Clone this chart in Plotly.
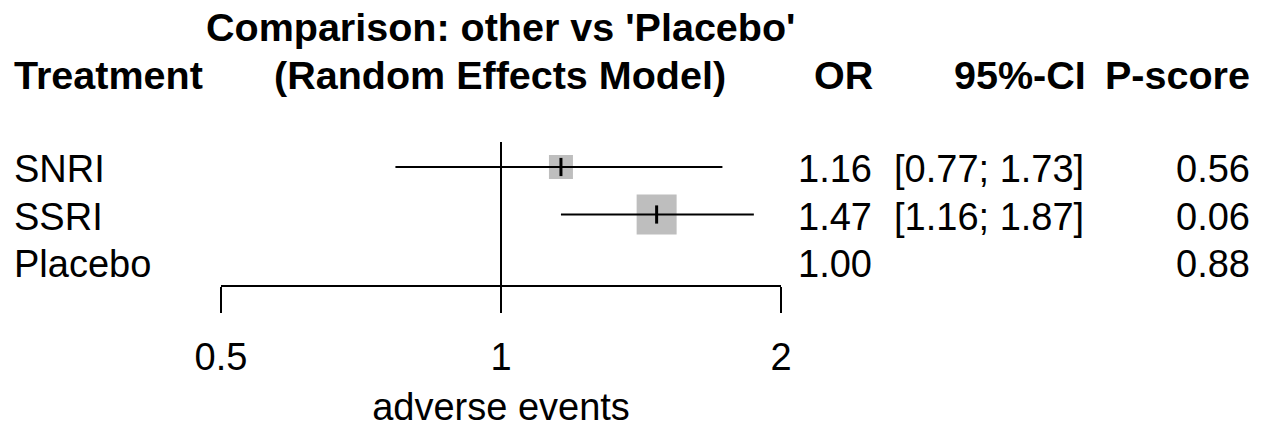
import math
import plotly.graph_objects as go

# ---- data ----
treatments = ["SNRI", "SSRI", "Placebo"]
or_est = [1.16, 1.47, 1.00]
ci_lower = [0.77, 1.16, None]
ci_upper = [1.73, 1.87, None]
p_score = [0.56, 0.06, 0.88]
tick_vals = [0.5, 1, 2]
tick_text = ["0.5", "1", "2"]
x_title = "adverse events"
header_title = ["Comparison: other vs 'Placebo'", "(Random Effects Model)"]
col_headers = ["Treatment", "OR", "95%-CI", "P-score"]

# ---- style ----
square_px = [24, 40, 0]
W, H = 1263, 428
FONT = "Liberation Sans, Arial, sans-serif"
FS = 38
FSB = 39.5
ROW0_PX, ROW_STEP = 167, 47.5
AXIS_PX = 286
SQUARE_COLOR = "#BEBEBE"


def row_of_px(p):
    return (p - ROW0_PX) / ROW_STEP


def paper_y(p):
    return 1 - p / H


rows = list(range(len(treatments)))
fig = go.Figure()

# squares (drawn first so the CI line runs over them)
sq_rows = [i for i in rows if ci_lower[i] is not None]
fig.add_trace(go.Scatter(
    x=[or_est[i] for i in sq_rows], y=sq_rows, mode="markers",
    marker=dict(symbol="square", size=[square_px[i] for i in sq_rows],
                color=SQUARE_COLOR, opacity=1, line=dict(width=0)),
    showlegend=False, cliponaxis=False))

# CI lines
for i in rows:
    if ci_lower[i] is not None:
        fig.add_trace(go.Scatter(x=[ci_lower[i], ci_upper[i]], y=[i, i], mode="lines",
                                 line=dict(color="black", width=2), hoverinfo="skip",
                                 showlegend=False, cliponaxis=False))

# estimate ticks
fig.add_trace(go.Scatter(
    x=[or_est[i] for i in sq_rows], y=sq_rows, mode="markers",
    marker=dict(symbol="line-ns", size=13, color="black",
                line=dict(color="black", width=3)),
    showlegend=False, cliponaxis=False))

# reference line at 1
fig.add_shape(type="line", xref="x", yref="y", x0=1, x1=1,
              y0=row_of_px(142), y1=row_of_px(AXIS_PX),
              line=dict(color="black", width=2), layer="below")

ann = []
tf = dict(family=FONT, size=FS, color="black")
bf = dict(family=FONT, size=FSB, color="black")
for i in rows:
    ann.append(dict(xref="paper", yref="y", x=12 / W, y=i, yshift=-2, text=treatments[i],
                    xanchor="left", yanchor="middle", showarrow=False, font=tf))
    ann.append(dict(xref="paper", yref="y", x=874 / W, y=i, yshift=-2, text=f"{or_est[i]:.2f}",
                    xanchor="right", yanchor="middle", showarrow=False, font=tf))
    if ci_lower[i] is not None:
        ann.append(dict(xref="paper", yref="y", x=1086 / W, y=i, yshift=-2,
                        text=f"[{ci_lower[i]:.2f}; {ci_upper[i]:.2f}]",
                        xanchor="right", yanchor="middle", showarrow=False, font=tf))
    ann.append(dict(xref="paper", yref="y", x=1252 / W, y=i, yshift=-2, text=f"{p_score[i]:.2f}",
                    xanchor="right", yanchor="middle", showarrow=False, font=tf))

# headers
ann.append(dict(xref="paper", yref="paper", x=500 / W, y=paper_y(27), text=f"<b>{header_title[0]}</b>",
                xanchor="center", yanchor="middle", showarrow=False, font=bf))
ann.append(dict(xref="paper", yref="paper", x=500 / W, y=paper_y(75), text=f"<b>{header_title[1]}</b>",
                xanchor="center", yanchor="middle", showarrow=False, font=bf))
ann.append(dict(xref="paper", yref="paper", x=12 / W, y=paper_y(75), text=f"<b>{col_headers[0]}</b>",
                xanchor="left", yanchor="middle", showarrow=False, font=bf))
for txt, xr in zip(col_headers[1:], [875, 1088, 1252]):
    ann.append(dict(xref="paper", yref="paper", x=xr / W, y=paper_y(75), text=f"<b>{txt}</b>",
                    xanchor="right", yanchor="middle", showarrow=False, font=bf))

fig.update_layout(
    template="none",
    width=W, height=H, margin=dict(l=0, r=0, t=0, b=0, pad=0), autosize=False,
    paper_bgcolor="white", plot_bgcolor="white",
    font=dict(family=FONT, size=FS, color="black"),
    annotations=ann,
    xaxis=dict(type="log", range=[math.log10(0.5), math.log10(2)],
               domain=[221 / W, 781 / W], anchor="free", position=paper_y(AXIS_PX),
               automargin=False,
               showline=True, linecolor="black", linewidth=2,
               ticks="outside", ticklen=26, tickwidth=2, tickcolor="black",
               tickvals=tick_vals, ticktext=tick_text, tickfont=tf, ticklabelstandoff=11,
               showgrid=False, zeroline=False,
               title=dict(text=x_title, font=tf, standoff=19)),
    yaxis=dict(visible=False, automargin=False,
               range=[row_of_px(H), row_of_px(0)], domain=[0, 1],
               showgrid=False, zeroline=False),
)

fig.write_html("out.html")
